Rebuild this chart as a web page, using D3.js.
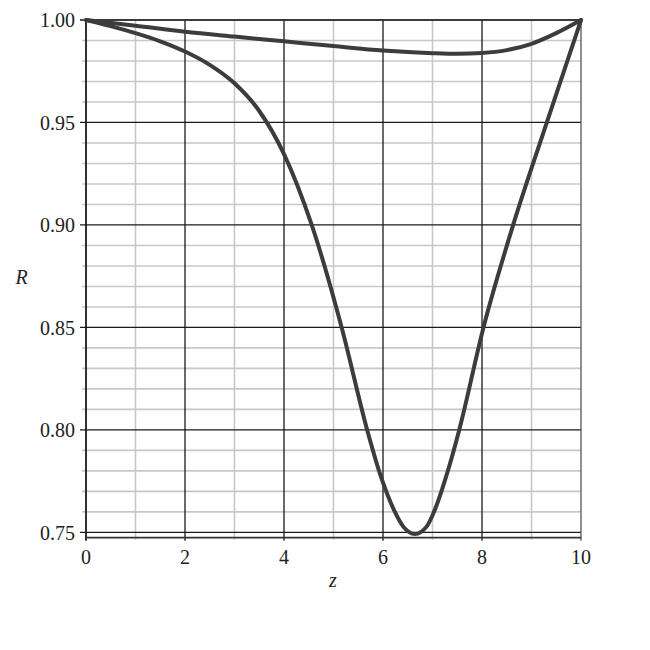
<!DOCTYPE html>
<html><head><meta charset="utf-8">
<script src="https://cdn.jsdelivr.net/npm/d3@7"></script>
<style>body{margin:0;background:#fff}svg{display:block}</style>
</head><body>
<svg id="chart" width="650" height="650"></svg>
<script>
// Data
const zUpper = [0, 1, 2, 3, 4, 5, 6, 7, 7.5, 8, 8.5, 9, 9.5, 10];
const rUpper = [1.0, 0.9972, 0.9943, 0.9919, 0.9896, 0.9873, 0.9851, 0.9838, 0.9835, 0.9839, 0.9853, 0.9884, 0.9936, 1.0];
const zLower = [0, 0.5, 1, 1.5, 2, 2.5, 3, 3.5, 4, 4.56, 5.165, 5.68, 5.92, 6.24, 6.41, 6.646, 6.88, 7.03, 7.31, 7.54, 8.03, 8.63, 9.31, 10];
const rLower = [1.0, 0.997, 0.9936, 0.9896, 0.9846, 0.9781, 0.9691, 0.9556, 0.9346, 0.90, 0.85, 0.80, 0.78, 0.76, 0.7528, 0.7492, 0.7528, 0.76, 0.78, 0.80, 0.85, 0.90, 0.95, 1.0];
const xTicks = [0, 2, 4, 6, 8, 10];
const xMinor = [1, 3, 5, 7, 9];
const yTicks = [0.75, 0.80, 0.85, 0.90, 0.95, 1.00];
const xLabel = "z";
const yLabel = "R";

(function () {
const svg = d3.select("#chart");
const mL = 86, mR = 581, mT = 20, mB = 537.7;
const x = d3.scaleLinear().domain([0, 10]).range([mL, mR]);
const y = d3.scaleLinear().domain([0.7474, 1.0]).range([mB, mT]);

const yMinor = d3.range(75, 101).map(v => v / 100).filter(v => Math.round(v * 100) % 5 !== 0);

const g = svg.append("g");
g.selectAll(".ym").data(yMinor).enter().append("line")
  .attr("x1", mL - 4).attr("x2", mR)
  .attr("y1", d => y(d)).attr("y2", d => y(d))
  .attr("stroke", "#c8c8c8").attr("stroke-width", 1.6);
g.selectAll(".xm").data(xMinor).enter().append("line")
  .attr("x1", d => x(d)).attr("x2", d => x(d))
  .attr("y1", mT).attr("y2", mB + 2)
  .attr("stroke", "#c8c8c8").attr("stroke-width", 1.6);
g.selectAll(".yM").data(yTicks).enter().append("line")
  .attr("x1", mL - 6).attr("x2", mR)
  .attr("y1", d => y(d)).attr("y2", d => y(d))
  .attr("stroke", "#1a1a1a").attr("stroke-width", 1.3);
g.selectAll(".xM").data(xTicks).enter().append("line")
  .attr("x1", d => x(d)).attr("x2", d => x(d))
  .attr("y1", mT).attr("y2", mB + 3)
  .attr("stroke", d => d === 10 ? "#555" : "#1a1a1a").attr("stroke-width", d => d === 0 ? 1.8 : 1.3);
g.append("line").attr("x1", mL).attr("x2", mR).attr("y1", mB).attr("y2", mB)
  .attr("stroke", "#333").attr("stroke-width", 1.8);
g.append("line").attr("x1", mL).attr("x2", mR).attr("y1", mT).attr("y2", mT)
  .attr("stroke", "#333").attr("stroke-width", 1.3);

const font = "'Liberation Serif', 'Times New Roman', Times, serif";
svg.selectAll(".yl").data(yTicks).enter().append("text")
  .attr("x", 75).attr("y", d => y(d)).attr("dy", "0.36em")
  .attr("text-anchor", "end").attr("font-family", font).attr("font-size", 20)
  .attr("fill", "#222").text(d => d3.format(".2f")(d));
svg.selectAll(".xl").data(xTicks).enter().append("text")
  .attr("x", d => x(d)).attr("y", 564)
  .attr("text-anchor", "middle").attr("font-family", font).attr("font-size", 20)
  .attr("fill", "#222").text(d => d);
svg.append("text").attr("x", 333).attr("y", 587).attr("text-anchor", "middle")
  .attr("font-family", font).attr("font-style", "italic").attr("font-size", 20)
  .attr("fill", "#222").text(xLabel);
svg.append("text").attr("x", 21.5).attr("y", 284).attr("text-anchor", "middle")
  .attr("font-family", font).attr("font-style", "italic").attr("font-size", 20)
  .attr("fill", "#222").text(yLabel);

const line = d3.line().x(d => x(d[0])).y(d => y(d[1])).curve(d3.curveMonotoneX);
const upper = zUpper.map((z, i) => [z, rUpper[i]]);
const lower = zLower.map((z, i) => [z, rLower[i]]);
[upper, lower].forEach(data => {
  svg.append("path").datum(data).attr("d", line)
    .attr("fill", "none").attr("stroke", "#3c3c3c").attr("stroke-width", 4)
    .attr("stroke-linejoin", "round").attr("stroke-linecap", "round");
});
})();
</script>
</body></html>
